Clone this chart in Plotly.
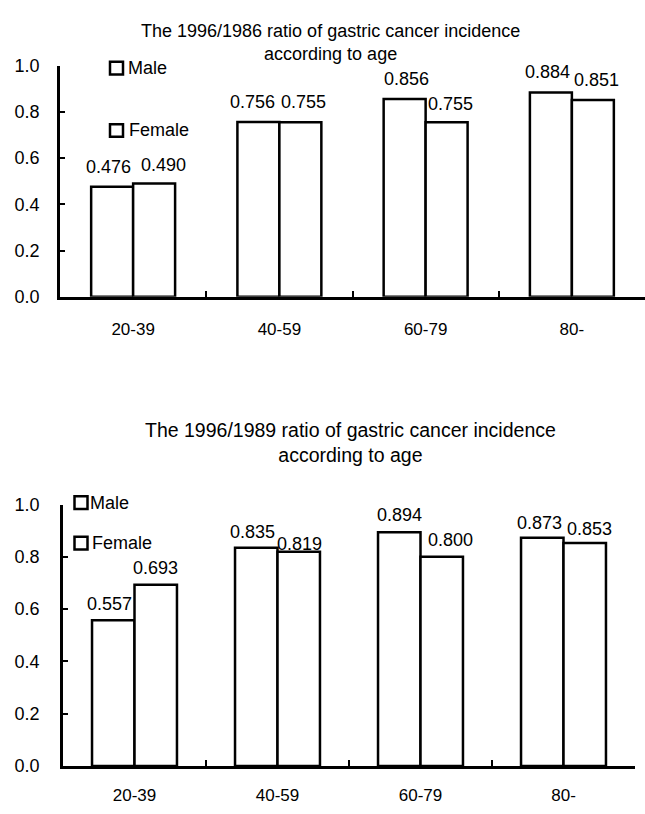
import plotly.graph_objects as go

# ---------------- data ----------------
age_groups = ["20-39", "40-59", "60-79", "80-"]
series_names = ["Male", "Female"]
male_1986 = [0.476, 0.756, 0.856, 0.884]
female_1986 = [0.490, 0.755, 0.755, 0.851]
male_1989 = [0.557, 0.835, 0.894, 0.873]
female_1989 = [0.693, 0.819, 0.800, 0.853]
titles = [
    "The 1996/1986 ratio of gastric cancer incidence<br>according to age",
    "The 1996/1989 ratio of gastric cancer incidence<br>according to age",
]
y_ticks = [0.0, 0.2, 0.4, 0.6, 0.8, 1.0]

# ---------------- styling / layout (pixels) ----------------
W, H = 645, 814
FONT = "Liberation Sans, Arial, Helvetica, sans-serif"


def fx(p):
    return p / W


def fy(p):
    return 1 - p / H


panels = [
    dict(values=(male_1986, female_1986), xd=(60, 645), yd=(294, 57), barw=0.287,
         title_xy=(330, 33), title_size=18, xstand=15, ystand=14, lab_y=20,
         nudges=[(-4, 0, 9, -2), (-6, 0, 3, 0), (2, 0, 4, -2), (-3, 0, 4, 0)],
         legend=[(116.5, 59.5, 126), (116.5, 123.5, 127)]),
    dict(values=(male_1989, female_1989), xd=(63, 635), yd=(775, 507), barw=0.297,
         title_xy=(350, 443.5), title_size=19.5, xstand=12, ystand=17, lab_y=16,
         nudges=[(-4, 0, 0, 1), (-4, 0, 1, -8.5), (0, 1, 9, 1), (-3, -1, 5, -2)],
         legend=[(81, 505, 88), (81, 546.5, 90)]),
]

fig = go.Figure()
annotations = []
shapes = []

for k, p in enumerate(panels):
    sfx = "" if k == 0 else str(k + 1)
    xa, ya = "x" + sfx, "y" + sfx
    w = p["barw"]
    for j, (name, vals) in enumerate(zip(series_names, p["values"])):
        fig.add_trace(go.Bar(
            x=age_groups, y=vals, name=name, xaxis=xa, yaxis=ya,
            width=w, offset=-w if j == 0 else 0,
            marker=dict(color="white", line=dict(color="black", width=2.5)),
            showlegend=False, hoverinfo="skip"))
        for i, v in enumerate(vals):
            nx = p["nudges"][i][2 * j]
            ny = p["nudges"][i][2 * j + 1]
            annotations.append(dict(
                x=i + (-w / 2 if j == 0 else w / 2), y=v, xref=xa, yref=ya,
                text=f"{v:.3f}", showarrow=False, xanchor="center", yanchor="middle",
                xshift=nx, yshift=p["lab_y"] + ny,
                font=dict(family=FONT, size=18, color="black")))
    # title
    tx, ty = p["title_xy"]
    annotations.append(dict(
        x=fx(tx), y=fy(ty), xref="paper", yref="paper", text=titles[k],
        showarrow=False, xanchor="center", yanchor="middle", align="center",
        font=dict(family=FONT, size=p["title_size"], color="black")))
    # legend (squares + names)
    for j, (cx, cy, tx0) in enumerate(p["legend"]):
        s = 6.5
        shapes.append(dict(type="rect", xref="paper", yref="paper",
                           x0=fx(cx - s), x1=fx(cx + s), y0=fy(cy + s), y1=fy(cy - s),
                           line=dict(color="black", width=2.5), fillcolor="white"))
        annotations.append(dict(
            x=fx(tx0), y=fy(cy), xref="paper", yref="paper", text=series_names[j],
            showarrow=False, xanchor="left", yanchor="middle",
            font=dict(family=FONT, size=18, color="black")))

    xd = [fx(p["xd"][0]), min(1.0, fx(p["xd"][1]))]
    yd = [fy(p["yd"][0]), fy(p["yd"][1])]
    fig.layout["xaxis" + sfx] = dict(
        domain=xd, anchor=ya, type="category", range=[-0.5, 3.5],
        showline=True, linecolor="black", linewidth=2.5, showgrid=False, zeroline=False,
        ticks="inside", tickson="boundaries", ticklen=6, tickwidth=2, tickcolor="black",
        tickfont=dict(family=FONT, size=17, color="black"), ticklabelstandoff=p["xstand"],
        fixedrange=True)
    fig.layout["yaxis" + sfx] = dict(
        domain=yd, anchor=xa, range=[0, 1.0], tickvals=y_ticks, tickformat=".1f",
        showline=True, linecolor="black", linewidth=2.5, showgrid=False, zeroline=False,
        ticks="inside", ticklen=5, tickwidth=2, tickcolor="black",
        tickfont=dict(family=FONT, size=18, color="black"), ticklabelstandoff=p["ystand"],
        fixedrange=True)

fig.update_layout(
    width=W, height=H, margin=dict(l=0, r=0, t=0, b=0, pad=0),
    paper_bgcolor="white", plot_bgcolor="white",
    annotations=annotations, shapes=shapes, showlegend=False,
    font=dict(family=FONT, color="black"),
)

fig.write_html("out.html", config={"displayModeBar": False})
